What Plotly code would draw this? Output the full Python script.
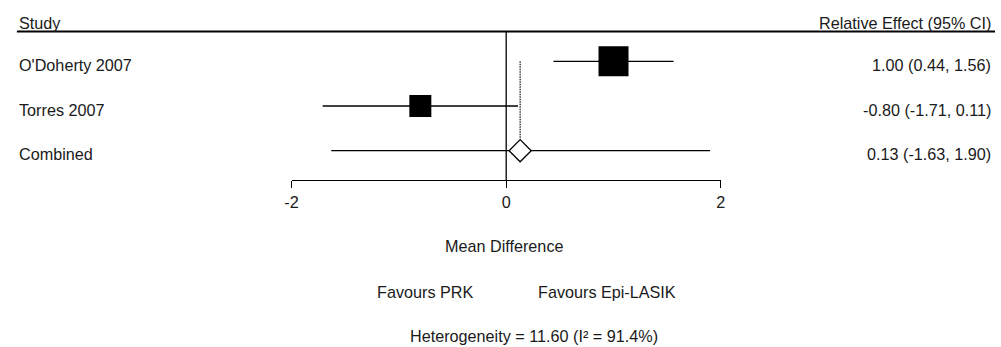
import plotly.graph_objects as go

# ---- data ----
studies = ["O'Doherty 2007", "Torres 2007"]
est = [1.00, -0.80]
lo = [0.44, -1.71]
hi = [1.56, 0.11]
combined_label = "Combined"
comb_est = 0.13
comb_lo = -1.63
comb_hi = 1.90
effect_text = ["1.00 (0.44, 1.56)", "-0.80 (-1.71, 0.11)", "0.13 (-1.63, 1.90)"]
tick_vals = [-2, 0, 2]
tick_text = ["-2", "0", "2"]
x_title = "Mean Difference"
left_label = "Favours PRK"
right_label = "Favours Epi-LASIK"
heterogeneity = "Heterogeneity = 11.60 (I\u00b2 = 91.4%)"

# ---- styles ----
W, H = 1001, 347
FONT = "Liberation Sans, Arial, sans-serif"
FS = 16.2
TXT = "#1a1a1a"
marker_sizes = [30, 22]
row_y = [3, 2]
comb_y = 1


def px(p):
    return p / W


def py(p):
    return 1 - p / H


fig = go.Figure()

# CI lines for studies
for i in range(len(studies)):
    fig.add_trace(go.Scatter(x=[lo[i], hi[i]], y=[row_y[i], row_y[i]], mode="lines",
                             line=dict(color="black", width=1.3), hoverinfo="skip",
                             showlegend=False))
# combined CI line
fig.add_trace(go.Scatter(x=[comb_lo, comb_hi], y=[comb_y, comb_y], mode="lines",
                         line=dict(color="black", width=1.3), hoverinfo="skip",
                         showlegend=False))
# dotted reference at combined estimate
fig.add_trace(go.Scatter(x=[comb_est, comb_est], y=[row_y[0], comb_y + 0.26], mode="lines",
                         line=dict(color="#111111", width=1.2, dash="1.5px,1px"),
                         hoverinfo="skip", showlegend=False))
# squares
fig.add_trace(go.Scatter(x=est, y=row_y, mode="markers",
                         marker=dict(symbol="square", size=marker_sizes, color="black",
                                     opacity=1, line=dict(width=0)),
                         showlegend=False))
# diamond
fig.add_trace(go.Scatter(x=[comb_est], y=[comb_y], mode="markers",
                         marker=dict(symbol="diamond", size=17, color="white", opacity=1,
                                     line=dict(color="black", width=1.3)),
                         showlegend=False))

x_dom = [288 / W, 722.5 / W]
y_pix_bottom, y_pix_top = 180, 31
row_step = 44.7
y0_pix = 195.4
fig.update_layout(
    width=W, height=H,
    margin=dict(l=0, r=0, t=0, b=0),
    paper_bgcolor="white", plot_bgcolor="white",
    font=dict(family=FONT, size=FS, color=TXT),
    xaxis=dict(domain=x_dom, range=[tick_vals[0], tick_vals[-1]], tickvals=tick_vals,
               ticktext=tick_text, showline=True, linecolor="black", linewidth=1.3,
               ticks="outside", ticklen=7, tickwidth=1.3, tickcolor="black",
               showgrid=False, zeroline=False, fixedrange=True,
               tickfont=dict(size=FS, color=TXT)),
    yaxis=dict(domain=[py(y_pix_bottom), py(y_pix_top)],
               range=[(y0_pix - y_pix_bottom) / row_step, (y0_pix - y_pix_top) / row_step],
               visible=False, fixedrange=True),
    shapes=[
        dict(type="line", xref="paper", yref="paper", x0=px(10), x1=px(1000),
             y0=py(31.5), y1=py(31.5), line=dict(color="black", width=2.2)),
        dict(type="line", xref="x", yref="y domain", x0=0, x1=0, y0=0, y1=1,
             line=dict(color="black", width=1.3)),
    ],
)

ann = []
ann.append(dict(text="Study", xref="paper", yref="paper", x=px(10), y=py(23),
                xanchor="left", yanchor="middle", showarrow=False))
ann.append(dict(text="Relative Effect (95% CI)", xref="paper", yref="paper", x=px(998),
                y=py(23), xanchor="right", yanchor="middle", showarrow=False))
labels = studies + [combined_label]
ys = row_y + [comb_y]
for lab, yy, et in zip(labels, ys, effect_text):
    ann.append(dict(text=lab, xref="paper", yref="y", x=px(10), y=yy, xanchor="left",
                    yanchor="middle", yshift=-3.5, showarrow=False))
    ann.append(dict(text=et, xref="paper", yref="y", x=px(998), y=yy, xanchor="right",
                    yanchor="middle", yshift=-3.5, showarrow=False))
ann.append(dict(text=x_title, xref="paper", yref="paper", x=px(503), y=py(246),
                xanchor="center", yanchor="middle", showarrow=False))
ann.append(dict(text=left_label, xref="paper", yref="paper", x=px(423), y=py(292),
                xanchor="center", yanchor="middle", showarrow=False))
ann.append(dict(text=right_label, xref="paper", yref="paper", x=px(607), y=py(292),
                xanchor="center", yanchor="middle", showarrow=False))
ann.append(dict(text=heterogeneity, xref="paper", yref="paper", x=px(533), y=py(336),
                xanchor="center", yanchor="middle", showarrow=False))
fig.update_layout(annotations=ann)

fig.write_html("out.html")
